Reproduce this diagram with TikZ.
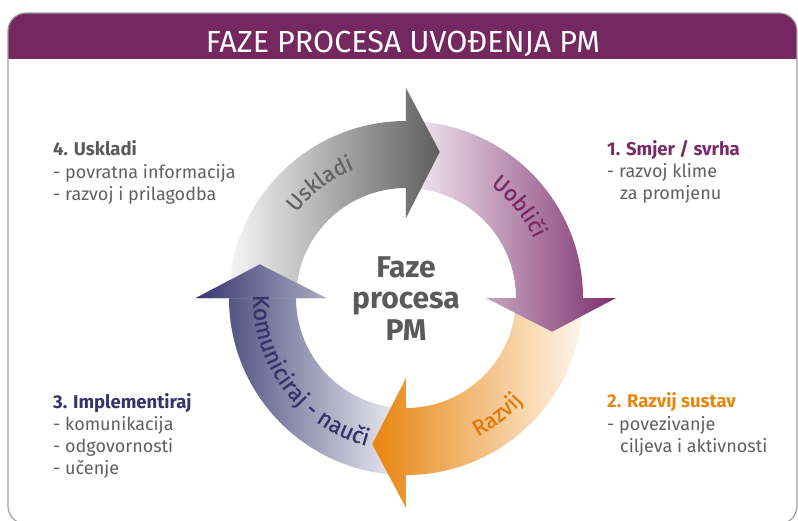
\documentclass[tikz,border=0pt]{standalone}
\usepackage{fontspec}
\setmainfont{Fira Sans}
\newfontfamily\arrowfont{Fira Sans}[FakeBold=0.6]
\usetikzlibrary{decorations.text}
\definecolor{titlepurple}{HTML}{74285F}
\definecolor{headpurple}{HTML}{7B2A68}
\definecolor{headorange}{HTML}{E8870E}
\definecolor{headnavy}{HTML}{35346C}
\definecolor{headgray}{HTML}{5A5A5A}
\definecolor{bodytext}{HTML}{606060}
\definecolor{framegray}{HTML}{A0A0A0}
\definecolor{graydark}{HTML}{5E5E5E}
\definecolor{graylight}{HTML}{F6F6F6}
\definecolor{purpledark}{HTML}{7C2F6E}
\definecolor{purplelight}{HTML}{F6EFF4}
\definecolor{orangedark}{HTML}{E8850F}
\definecolor{orangelight}{HTML}{FEF6EC}
\definecolor{navydark}{HTML}{38376E}
\definecolor{navylight}{HTML}{F2F2F6}
\definecolor{usktext}{HTML}{646464}
\definecolor{razvtext}{HTML}{E07A0E}
\tikzset{
  headtext/.style={anchor=base west, inner sep=0pt, font=\bfseries\fontsize{18.5}{18.5}\selectfont},
  bodyline/.style={anchor=base west, inner sep=0pt, text=bodytext, font=\fontsize{18}{18}\selectfont},
  centertext/.style={anchor=base, inner sep=0pt, text=headgray, font=\bfseries\fontsize{30}{30}\selectfont}
}
\begin{document}
\begin{tikzpicture}[x=1pt,y=1pt]
\useasboundingbox (-406,-222) rectangle (392,298);
\fill[white] (-406,-222) rectangle (392,298);
% frame and title bar
\begin{scope}
  \clip[rounded corners=18pt] (-398,-226) rectangle (391,285);
  \fill[titlepurple] (-398,239) rectangle (391,285);
\end{scope}
\draw[framegray, line width=1.2pt, rounded corners=18pt] (-398,-226) rectangle (391,285);
\node[anchor=base, inner sep=0pt, text=white, font=\fontsize{30.5}{30.5}\selectfont] (title) at (-3,246) {FAZE PROCESA UVOĐENJA PM};

% ring arrows (drawn in reverse order so heads overlap the next start)
\shade[left color=navydark, right color=navylight]
  (-90:177) arc[start angle=-90, end angle=-180, radius=177] -- (180:210) -- (167:150) -- (180:80) -- (180:110)
  arc[start angle=180, end angle=270, radius=110] -- cycle;
\shade[left color=orangedark, right color=orangelight]
  (0:177) arc[start angle=0, end angle=-90, radius=177] -- (-90:210) -- (-103:150) -- (-90:80) -- (-90:110)
  arc[start angle=-90, end angle=0, radius=110] -- cycle;
\shade[left color=purplelight, right color=purpledark]
  (90:177) arc[start angle=90, end angle=0, radius=177] -- (0:210) -- (-13:150) -- (0:80) -- (0:110)
  arc[start angle=0, end angle=90, radius=110] -- cycle;
\shade[left color=graylight, right color=graydark]
  (180:177) arc[start angle=180, end angle=90, radius=177] -- (90:210) -- (77:150) -- (90:80) -- (90:110)
  arc[start angle=90, end angle=180, radius=110] -- cycle;
\begin{scope}
  \clip (180:210) -- (167:150) -- (180:80) -- cycle;
  \shade[left color=navydark, right color=navylight]
    (-90:177) arc[start angle=-90, end angle=-180, radius=177] -- (180:210) -- (167:150) -- (180:80) -- (180:110)
    arc[start angle=180, end angle=270, radius=110] -- cycle;
\end{scope}

% texts along arrows
\path[decorate, decoration={text along path, text align=center, text color=usktext,
  text={|\arrowfont\fontsize{22}{22}\selectfont|Uskladi}}]
  (157:139) arc[start angle=157, end angle=97, radius=139];
\path[decorate, decoration={text along path, text align=center, text color=headpurple,
  text={|\arrowfont\fontsize{22}{22}\selectfont|Uobliči}}]
  (69:141) arc[start angle=69, end angle=9, radius=141];
\path[decorate, decoration={text along path, text align=center, text color=razvtext,
  text={|\arrowfont\fontsize{22}{22}\selectfont|Razvij}}]
  (278:156) arc[start angle=278, end angle=338, radius=156];
\path[decorate, decoration={text along path, text align=center, text color=headnavy,
  text={|\arrowfont\fontsize{23}{23}\selectfont|Komuniciraj - nauči}}]
  (165:153) arc[start angle=165, end angle=269, radius=153];

% centre
\node[centertext] (c1) at (0,21) {Faze};
\node[centertext] (c2) at (0,-10) {procesa};
\node[centertext] (c3) at (0,-42) {PM};

% side texts
\node[headtext, text=headgray] (u0) at (-353,143) {4. Uskladi};
\node[bodyline] (u1) at (-353,120) {- povratna informacija};
\node[bodyline] (u2) at (-353,98) {- razvoj i prilagodba};

\node[headtext, text=headpurple] (s0) at (201,143) {1. Smjer / svrha};
\node[bodyline] (s1) at (201,121) {- razvoj klime};
\node[bodyline] (s2) at (214,99) {za promjenu};

\node[headtext, text=headorange] (r0) at (201,-109) {2. Razvij sustav};
\node[bodyline] (r1) at (201,-132) {- povezivanje};
\node[bodyline] (r2) at (214,-154) {ciljeva i aktivnosti};

\node[headtext, text=headnavy] (i0) at (-353,-110) {3. Implementiraj};
\node[bodyline] (i1) at (-353,-132) {- komunikacija};
\node[bodyline] (i2) at (-353,-154) {- odgovornosti};
\node[bodyline] (i3) at (-353,-176) {- učenje};
\end{tikzpicture}
\end{document}
